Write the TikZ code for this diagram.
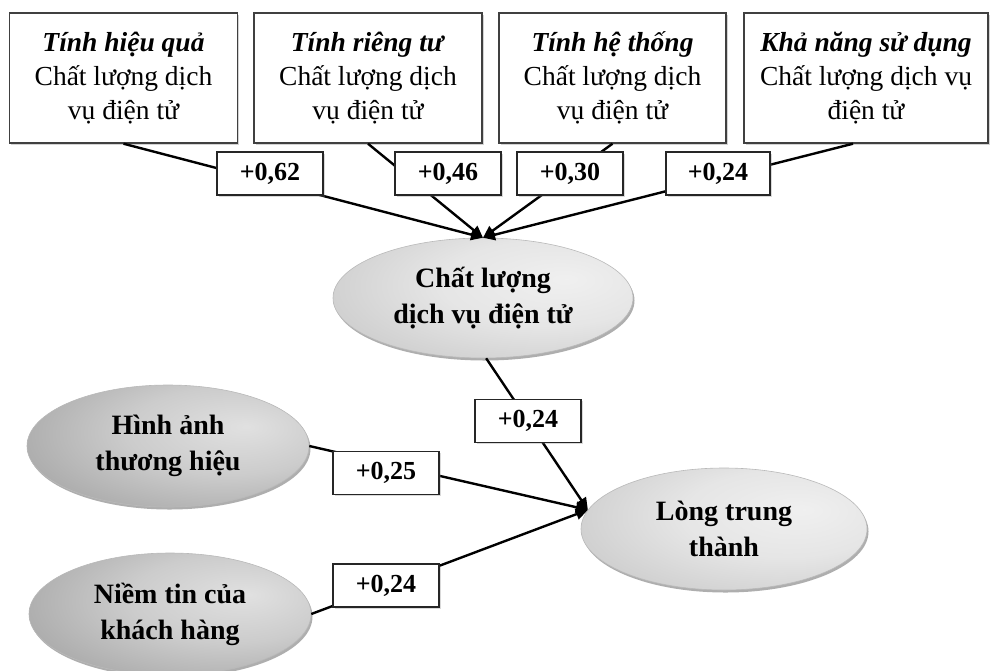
\documentclass[tikz,border=0pt]{standalone}
\usepackage{fontspec}
\setmainfont{Liberation Serif}
\usetikzlibrary{shapes.geometric,arrows.meta,shadows}

\pgfdeclareradialshading{palegloss}{\pgfpoint{14bp}{8bp}}{%
  color(0bp)=(white!94!black); color(18bp)=(white!90!black);
  color(45bp)=(white!76!black); color(62bp)=(white!62!black);
  color(80bp)=(white!62!black)}
\pgfdeclareradialshading{darkgloss}{\pgfpoint{14bp}{8bp}}{%
  color(0bp)=(white!88!black); color(18bp)=(white!80!black);
  color(45bp)=(white!60!black); color(62bp)=(white!46!black);
  color(80bp)=(white!46!black)}

\begin{document}
\begin{tikzpicture}[x=1pt,y=-1pt]
  \useasboundingbox (0,0) rectangle (992,670);

  % dimension boxes
  \begin{scope}[every node/.style={rectangle,draw=black!75,line width=1.4pt,fill=white,
      minimum height=130pt,align=center,font=\fontsize{27.5}{34}\selectfont,
      drop shadow={shadow xshift=1.5pt,shadow yshift=-1.5pt,opacity=0.35}}]
    \node[minimum width=228pt] (q1) at (123.5,78) {\textbf{\textit{Tính hiệu quả}}\\Chất lượng dịch\\vụ điện tử};
    \node[minimum width=228pt] (q2) at (368,78)   {\textbf{\textit{Tính riêng tư}}\\Chất lượng dịch\\vụ điện tử};
    \node[minimum width=227pt] (q3) at (612.5,78) {\textbf{\textit{Tính hệ thống}}\\Chất lượng dịch\\vụ điện tử};
    \node[minimum width=244pt] (q4) at (866,78)   {\textbf{\textit{Khả năng sử dụng}}\\Chất lượng dịch vụ\\điện tử};
  \end{scope}

  % constructs
  \begin{scope}[every node/.style={ellipse,draw=gray!55,line width=0.6pt,inner sep=0pt,
      align=center,font=\bfseries\fontsize{28}{36}\selectfont,
      drop shadow={shadow xshift=1.5pt,shadow yshift=-2.5pt,opacity=0.45,fill=black!70}}]
    \node[shading=palegloss,minimum width=300pt,minimum height=120pt] (eq)    at (483,298) {Chất lượng\\dịch vụ điện tử};
    \node[shading=palegloss,minimum width=286pt,minimum height=122pt] (loyal) at (724,529) {Lòng trung\\thành};
    \node[shading=darkgloss,minimum width=282pt,minimum height=122pt] (brand) at (168,446) {Hình ảnh\\thương hiệu};
    \node[shading=darkgloss,minimum width=282pt,minimum height=122pt] (trust) at (170,614) {Niềm tin của\\khách hàng};
  \end{scope}

  \begin{scope}[every edge/.style={draw,line width=2.4pt,-{Triangle[length=12pt,width=11pt]}}]
    \path (q1.south) edge (eq.north);
    \path (q2.south) edge (eq.north);
    \path (q3.south) edge (eq.north);
    \path ([xshift=-13pt]q4.south) edge (eq.north);
    \path (eq.-87) edge (loyal.172);
    \path (brand.east) edge (loyal.172);
    \path (trust.east) edge (loyal.172);
  \end{scope}

  % path coefficients
  \begin{scope}[every node/.style={rectangle,draw=black!85,line width=1.4pt,fill=white,
      minimum width=106pt,minimum height=43pt,font=\bfseries\fontsize{26}{30}\selectfont,
      drop shadow={shadow xshift=1.5pt,shadow yshift=-1.5pt,opacity=0.3}}]
    \node (w1) at (270,173.5) {+0,62};
    \node (w2) at (448,173.5) {+0,46};
    \node (w3) at (570,173.5) {+0,30};
    \node[minimum width=104pt] (w4) at (718,173.5) {+0,24};
    \node (w5) at (528,421)   {+0,24};
    \node (w6) at (386,473)   {+0,25};
    \node (w7) at (386,585.5) {+0,24};
  \end{scope}

\end{tikzpicture}
\end{document}
